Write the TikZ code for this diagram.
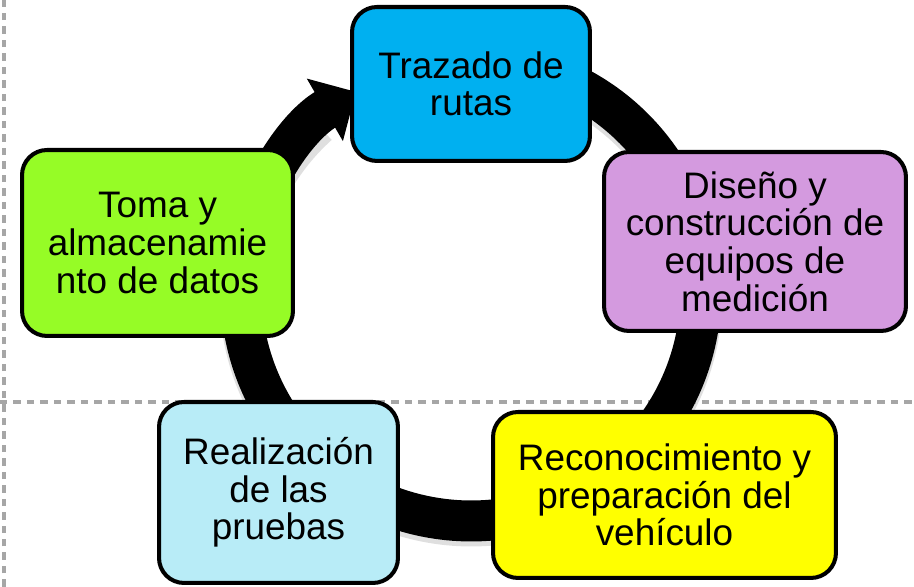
\documentclass[tikz,border=0pt]{standalone}
\usepackage{fontspec}
\setmainfont{Liberation Sans}
\usetikzlibrary{arrows.meta}

\definecolor{azul}{HTML}{00B0F0}
\definecolor{lila}{HTML}{D49ADF}
\definecolor{amarillo}{HTML}{FFFF00}
\definecolor{celeste}{HTML}{B8ECF7}
\definecolor{verde}{HTML}{96FC26}
\definecolor{gris}{HTML}{A6A6A6}

\begin{document}
\begin{tikzpicture}[x=0.02cm,y=0.02cm,
	etapa/.style={draw=black, line width=2.3pt, rounded corners=0.5cm, align=center, inner sep=0pt, font=\fontsize{21}{21.4}\selectfont},
	guia/.style={draw=gris, line width=0.08cm, dash pattern=on 0.15cm off 0.12cm}]
				\useasboundingbox (0,0) rectangle (914,587);
				\draw[guia] (4,0) -- (4,587);
				\draw[guia] (0,185) -- (914,185);
				% ciclo
				\coordinate (c) at (471,296);
				\draw[black!25, line width=0.86cm, opacity=0.5] ([yshift=-0.08cm]c) ++(80:4.6cm) arc[start angle=80, end angle=-228, radius=4.6cm];
				\draw[line width=0.82cm, -{Triangle[length=0.72cm,width=1.4cm]}] (c) ++(80:4.6cm) arc[start angle=80, end angle=-240, radius=4.6cm];
				% etapas
				\node[etapa, fill=azul, minimum width=4.76cm, minimum height=3.08cm] (trazado) at (471,503) {Trazado de\\rutas};
				\node[etapa, fill=lila, minimum width=6.04cm, minimum height=3.58cm] (diseno) at (755,345.5) {Diseño y\\construcción de\\equipos de\\medición};
				\node[etapa, fill=amarillo, minimum width=6.86cm, minimum height=3.32cm] (reconoc) at (664.5,92) {Reconocimiento y\\preparación del\\vehículo};
				\node[etapa, fill=celeste, minimum width=4.78cm, minimum height=3.62cm] (pruebas) at (278.5,94.5) {Realización\\de las\\pruebas};
				\node[etapa, fill=verde, minimum width=5.42cm, minimum height=3.72cm] (toma) at (157.5,344) {Toma y\\almacenamie\\nto de datos};
\end{tikzpicture}
\end{document}
